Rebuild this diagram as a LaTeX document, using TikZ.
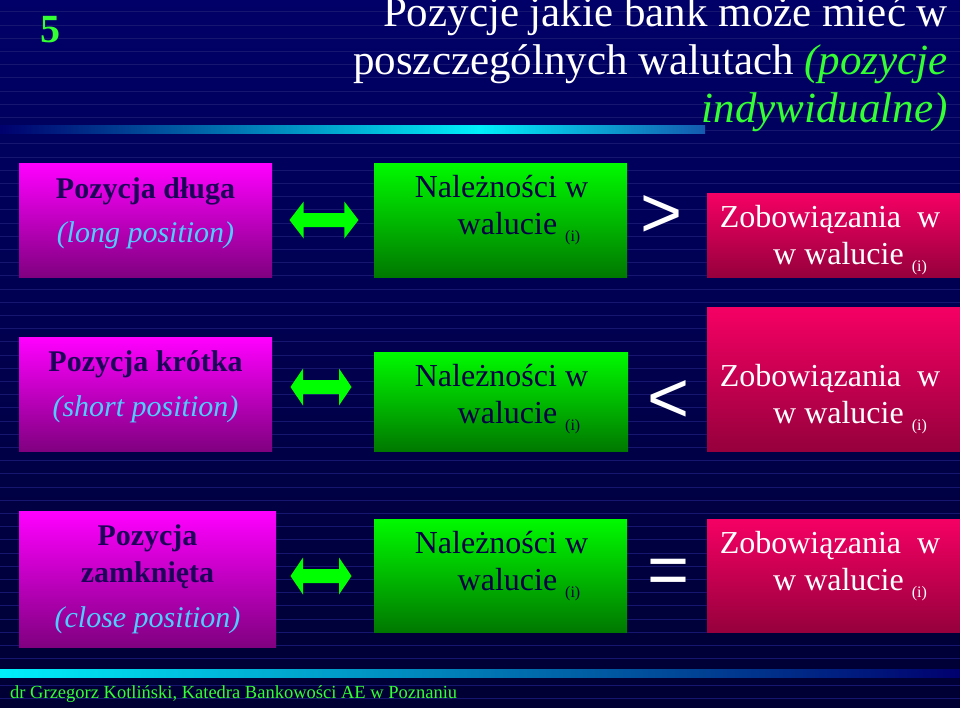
\documentclass[tikz,border=0pt]{standalone}
\usepackage{fontspec}
\setmainfont{Liberation Serif}
\newfontfamily\signfont{Liberation Sans}

\definecolor{bgtop}{RGB}{0,0,104}
\definecolor{bgbot}{RGB}{0,0,52}
\definecolor{gridblue}{RGB}{22,22,112}
\definecolor{magtop}{RGB}{255,0,255}
\definecolor{magbot}{RGB}{128,0,128}
\definecolor{grntop}{RGB}{0,250,0}
\definecolor{grnbot}{RGB}{0,120,0}
\definecolor{redtop}{RGB}{245,0,100}
\definecolor{redbot}{RGB}{150,0,60}
\definecolor{posnavy}{RGB}{30,0,90}
\definecolor{poscyan}{RGB}{80,205,255}
\definecolor{amtnavy}{RGB}{0,0,70}
\definecolor{litegreen}{RGB}{51,255,51}
\definecolor{arrowgreen}{RGB}{0,255,0}
\definecolor{barcyan}{RGB}{0,240,250}
\definecolor{bardark}{RGB}{0,0,110}
\definecolor{barend}{RGB}{20,90,175}

\pgfdeclarehorizontalshading{titlebar}{100bp}{color(0bp)=(bardark); color(25bp)=(bardark); color(59bp)=(barcyan); color(75bp)=(barend); color(100bp)=(barend)}

\newcommand\posname[1]{{\color{posnavy}\bfseries #1}}
\newcommand\posen[1]{{\color{poscyan}\itshape #1}}
\newcommand\walidx{\raisebox{-7pt}{\fontsize{16}{16}\selectfont(i)}}

\begin{document}
\begin{tikzpicture}
[
    x=1pt, y=-1pt,
    posbox/.style={rectangle, inner sep=0pt, anchor=north west, top color=magtop, bottom color=magbot},
    amtbox/.style={rectangle, inner sep=0pt, anchor=north west, top color=grntop, bottom color=grnbot},
    dbtbox/.style={rectangle, inner sep=0pt, anchor=north west, top color=redtop, bottom color=redbot},
    postext/.style={align=center, inner sep=0pt, font=\fontsize{30}{37}\selectfont},
    amttext/.style={align=center, inner sep=0pt, text=amtnavy, font=\fontsize{32}{37}\selectfont},
    dbttext/.style={align=center, inner sep=0pt, text=white, font=\fontsize{32}{37}\selectfont},
    cmp/.style={inner sep=0pt, text=white, font=\signfont\fontsize{72}{72}\selectfont},
    gridline/.style={gridblue, line width=0.6pt},
    dblarrow/.pic={\fill[arrowgreen] (-30.5,0) -- (-18,-18.5) -- (-18,-7) -- (18,-7) -- (18,-18.5)
        -- (30.5,0) -- (18,18.5) -- (18,7) -- (-18,7) -- (-18,18.5) -- cycle;},
]
\useasboundingbox (0,0) rectangle (960,707);
\shade[top color=bgtop, bottom color=bgbot] (0,0) rectangle (960,707);
\foreach \k in {1,...,53}
    \draw[gridline] (0,13.2*\k-1.5) -- (960,13.2*\k-1.5);
\shade[shading=titlebar] (0,125) rectangle (705,133);
\shade[left color=barcyan, right color=bardark] (0,669) rectangle (960,677);

\node[text=litegreen, font=\bfseries\fontsize{40}{40}\selectfont] (slideno) at (50,30) {5};
\node[anchor=north east, align=right, inner sep=0pt, text=white, font=\fontsize{43}{48}\selectfont] (title) at (948,-4)
{Pozycje jakie bank może mieć w\\poszczególnych walutach {\color{litegreen}\itshape(pozycje}\\{\color{litegreen}\itshape indywidualne)}};

\node[posbox, minimum width=253, minimum height=114] (longbox) at (19,163) {};
\node[amtbox, minimum width=253, minimum height=114] (longamt) at (374,163) {};
\node[dbtbox, minimum width=253, minimum height=84] (longdbt) at (707,193) {};
\node[postext] (longname) at (145.5,213) {\posname{Pozycja długa}\\[7pt]\posen{(long position)}};
\node[amttext] (longamttxt) at (501.5,210) {Należności w\\\hspace*{35pt}walucie \walidx};
\node[dbttext] (longdbttxt) at (830,240) {Zobowiązania\ \ w\\\hspace*{40pt}w walucie \walidx};
\node[cmp] (longcmp) at (662,217) {>};
\pic[xscale=1.13] (longarr) at (324,220) {dblarrow};

\node[posbox, minimum width=253, minimum height=114] (shortbox) at (19,337) {};
\node[amtbox, minimum width=254, minimum height=99] (shortamt) at (374,352) {};
\node[dbtbox, minimum width=253, minimum height=144] (shortdbt) at (707,307) {};
\node[postext] (shortname) at (145.5,387) {\posname{Pozycja krótka}\\[8pt]\posen{(short position)}};
\node[amttext] (shortamttxt) at (501.5,399) {Należności w\\\hspace*{35pt}walucie \walidx};
\node[dbttext] (shortdbttxt) at (830,399) {Zobowiązania\ \ w\\\hspace*{40pt}w walucie \walidx};
\node[cmp] (shortcmp) at (669,402) {<};
\pic (shortarr) at (321,387) {dblarrow};

\node[posbox, minimum width=257, minimum height=136] (closebox) at (19,511) {};
\node[amtbox, minimum width=253, minimum height=113] (closeamt) at (374,519) {};
\node[dbtbox, minimum width=253, minimum height=113] (closedbt) at (707,519) {};
\node[postext] (closename) at (147.5,579) {\posname{Pozycja}\\\posname{zamknięta}\\[8pt]\posen{(close position)}};
\node[amttext] (closeamttxt) at (501.5,566) {Należności w\\\hspace*{35pt}walucie \walidx};
\node[dbttext] (closedbttxt) at (830,566) {Zobowiązania\ \ w\\\hspace*{40pt}w walucie \walidx};
\node[cmp] (closecmp) at (669,576.5) {=};
\pic (closearr) at (321,576) {dblarrow};

\node[anchor=base west, inner sep=0pt, text=litegreen, font=\fontsize{18.5}{19}\selectfont] (author) at (10,698)
{dr Grzegorz Kotliński, Katedra Bankowości AE w Poznaniu};
\end{tikzpicture}
\end{document}
